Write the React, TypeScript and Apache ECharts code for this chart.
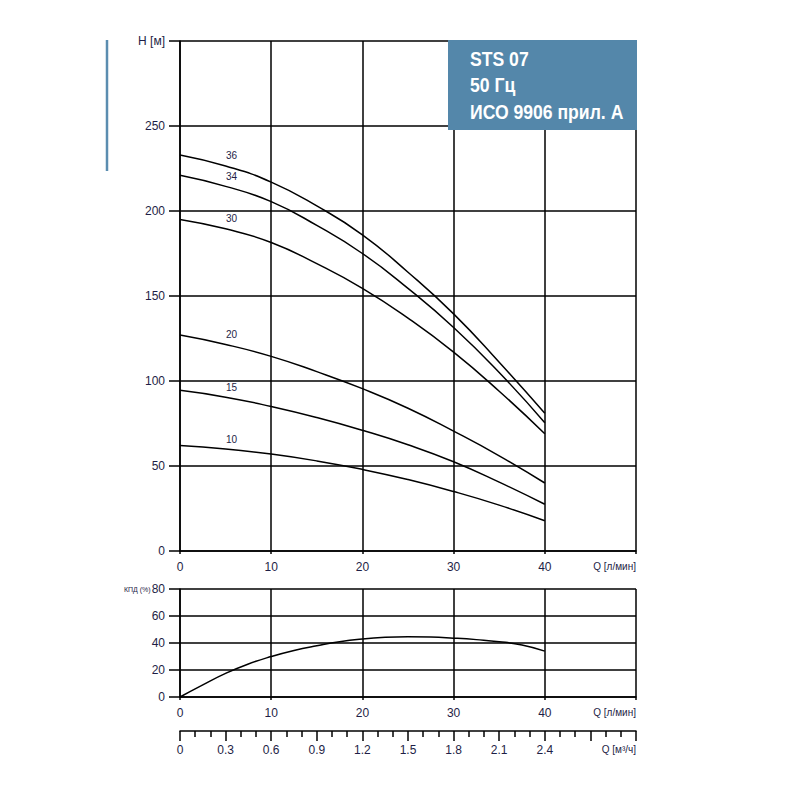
import React, { useEffect, useRef } from 'react';
import * as echarts from 'echarts';

// Flow points (л/мин) at which head values were read
const flowLpm = [0, 5, 10, 15, 20, 25, 30, 35, 40];
// Stage counts (curve labels)
const stageNames = ['36', '34', '30', '20', '15', '10'];
// Head H [м] per stage curve
const head36 = [233, 226.5, 217, 203, 186, 164, 139.5, 111, 81];
const head34 = [221, 214.5, 205.5, 191.5, 175, 154.5, 131.5, 105, 75.5];
const head30 = [195, 189.5, 181.5, 169, 154.5, 137, 117, 94, 69];
const head20 = [127, 121.5, 114.5, 105.5, 95.5, 84, 70.5, 56, 40];
const head15 = [94.5, 90.5, 85, 78.5, 71, 62.5, 52.5, 40.5, 27.5];
const head10 = [62, 60, 57, 53, 48, 42, 35, 27, 17.8];
const heads = [head36, head34, head30, head20, head15, head10];

// Efficiency curve
const effFlow = [0, 2.5, 5, 7.5, 10, 12.5, 15, 17.5, 20, 22.5, 25, 27.5, 30, 32.5, 35, 37.5, 40];
const effValues = [0, 9, 17.5, 24.5, 30, 34.5, 38, 41, 43, 44.2, 44.6, 44.4, 43.6, 42.5, 41, 38.5, 34];

// Tick labels / titles
const titleLines = ['STS 07', '50 Гц', 'ИСО 9906 прил. А'];
const headAxisName = 'H [м]';
const flowAxisName = 'Q [л/мин]';
const m3hAxisName = 'Q [м³/ч]';
const effAxisName = 'КПД (%)';

const TXT = '#1e1e46';
const FONT = 'Liberation Sans';
const GRID_LINE = { color: '#000', width: 1.5 };

export default function App() {
  const ref = useRef<HTMLDivElement>(null);
  useEffect(() => {
    if (!ref.current) return;
    const chart = echarts.init(ref.current, undefined, { renderer: 'svg' });

    const curveSeries = heads.map((h, si) => ({
      type: 'line',
      xAxisIndex: 0,
      yAxisIndex: 0,
      smooth: 0.5,
      showSymbol: true,
      symbol: 'circle',
      symbolSize: 0,
      lineStyle: { color: '#000', width: 1.5 },
      itemStyle: { color: '#000' },
      silent: true,
      data: flowLpm.map((q, i) =>
        i === 1
          ? {
              value: [q, h[i]],
              label: {
                show: true,
                formatter: stageNames[si],
                position: 'top',
                distance: 5,
                offset: [6, 0],
                fontSize: 10,
                fontFamily: FONT,
                color: TXT,
              },
            }
          : [q, h[i]]
      ),
    }));

    const baseX = (idx: number) => ({
      type: 'value',
      gridIndex: idx,
      min: 0,
      max: 50,
      interval: 10,
      axisLine: { show: true, lineStyle: GRID_LINE },
      axisTick: { show: true, length: 3, lineStyle: GRID_LINE },
      splitLine: { show: true, lineStyle: GRID_LINE },
      axisLabel: {
        margin: 10,
        fontSize: 12,
        fontFamily: FONT,
        color: TXT,
        alignMaxLabel: 'right',
        formatter: (v: number) => (v === 50 ? '{q|' + flowAxisName + '}' : String(v)),
        rich: { q: { fontSize: 10, fontFamily: FONT, color: TXT } },
      },
    });

    const option = {
      animation: false,
      backgroundColor: '#fff',
      grid: [
        { left: 180, top: 41, width: 456, height: 510 },
        { left: 180, top: 589, width: 456, height: 108 },
        { left: 180, top: 730, width: 456, height: 1 },
      ],
      xAxis: [
        baseX(0),
        baseX(1),
        {
          type: 'value',
          gridIndex: 2,
          min: 0,
          max: 3,
          interval: 0.3,
          axisLine: { show: true, lineStyle: GRID_LINE },
          axisTick: { show: true, length: 10, lineStyle: GRID_LINE },
          minorTick: { show: true, splitNumber: 3, length: 6, lineStyle: { color: '#000', width: 1.5 } },
          splitLine: { show: false },
          axisLabel: {
            margin: 13,
            fontSize: 12,
            fontFamily: FONT,
            color: TXT,
            alignMaxLabel: 'right',
            formatter: (v: number) => {
              const r = Math.round(v * 10) / 10;
              if (r === 3) return '{q|' + m3hAxisName + '}';
              if (r === 2.7) return '';
              return String(r);
            },
            rich: { q: { fontSize: 10, fontFamily: FONT, color: TXT } },
          },
        },
      ],
      yAxis: [
        {
          type: 'value',
          gridIndex: 0,
          min: 0,
          max: 300,
          interval: 50,
          axisLine: { show: true, lineStyle: GRID_LINE },
          axisTick: { show: true, length: 11, lineStyle: GRID_LINE },
          splitLine: { show: true, lineStyle: GRID_LINE },
          axisLabel: {
            margin: 15,
            fontSize: 12,
            fontFamily: FONT,
            color: TXT,
            formatter: (v: number) => (v === 300 ? headAxisName : String(v)),
          },
        },
        {
          type: 'value',
          gridIndex: 1,
          min: 0,
          max: 80,
          interval: 20,
          axisLine: { show: true, lineStyle: GRID_LINE },
          axisTick: { show: true, length: 11, lineStyle: GRID_LINE },
          splitLine: { show: true, lineStyle: GRID_LINE },
          axisLabel: {
            margin: 15,
            fontSize: 12,
            fontFamily: FONT,
            color: TXT,
            formatter: (v: number) => (v === 80 ? '{s|' + effAxisName + '}' + v : String(v)),
            rich: { s: { fontSize: 7, fontFamily: FONT, color: TXT, padding: [0, 1, 0, 0] } },
          },
        },
        { type: 'value', gridIndex: 2, show: false, min: 0, max: 1 },
      ],
      graphic: [
        {
          type: 'rect',
          z: 100,
          shape: { x: 448, y: 40, width: 189, height: 90 },
          style: { fill: '#5487aa' },
        },
        ...titleLines.map((t, i) => ({
          type: 'text',
          z: 101,
          x: 470,
          y: 59 + i * 26.5,
          scaleX: 0.88,
          style: {
            text: t,
            fill: '#fff',
            font: 'bold 20px "Liberation Sans", Arial, sans-serif',
            verticalAlign: 'middle',
            textAlign: 'left',
          },
        })),
        {
          type: 'line',
          z: 100,
          shape: { x1: 107, y1: 40, x2: 107, y2: 171 },
          style: { stroke: '#5b8db0', lineWidth: 2.5 },
        },
      ],
      series: [
        ...curveSeries,
        {
          type: 'line',
          xAxisIndex: 1,
          yAxisIndex: 1,
          smooth: 0.5,
          showSymbol: false,
          silent: true,
          lineStyle: { color: '#000', width: 1.5 },
          data: effFlow.map((q, i) => [q, effValues[i]]),
        },
      ],
    };

    chart.setOption(option as any);
    return () => chart.dispose();
  }, []);

  return (
    <div
      ref={ref}
      style={{ position: 'fixed', left: 0, top: 0, width: 800, height: 800, background: '#fff' }}
    />
  );
}
